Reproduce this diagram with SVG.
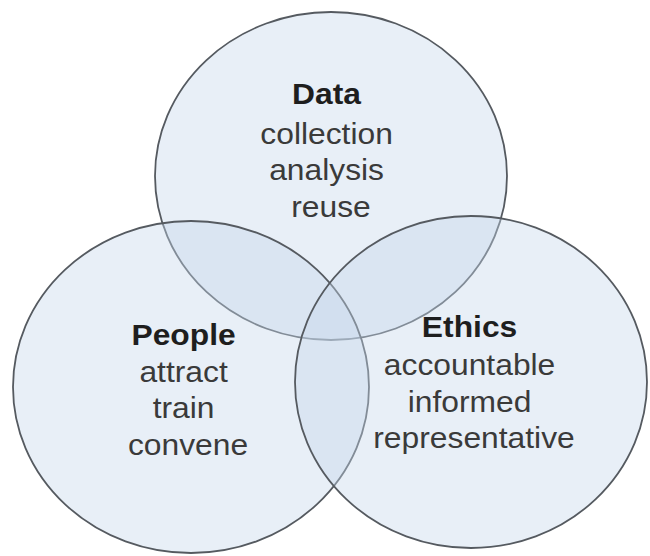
<svg xmlns="http://www.w3.org/2000/svg" width="650" height="556" viewBox="0 0 650 556">
  <style>
    .c { fill: #c5d7ec; fill-opacity: 0.4; stroke: #555a60; stroke-width: 1.8; }
    .t { font-family: "Liberation Sans", Arial, sans-serif; font-size: 30px; fill: #3a3a3a; text-anchor: middle; }
    .h { font-weight: bold; fill: #1e1e1e; }
  </style>
  <rect width="650" height="556" fill="#ffffff"/>
  <g id="data">
    <ellipse class="c" cx="331" cy="176" rx="176" ry="164"/>
    <text class="t" transform="translate(331,0) scale(1.06,1)">
      <tspan class="h" x="0" y="104">Data</tspan>
      <tspan x="0" y="144">collection</tspan>
      <tspan x="0" y="180">analysis</tspan>
      <tspan x="0" y="217">reuse</tspan>
    </text>
  </g>
  <g id="people">
    <ellipse class="c" cx="191" cy="387" rx="178" ry="166"/>
    <text class="t" transform="translate(188,0) scale(1.06,1)">
      <tspan class="h" x="0" y="345">People</tspan>
      <tspan x="0" y="382">attract</tspan>
      <tspan x="0" y="418">train</tspan>
      <tspan x="0" y="455">convene</tspan>
    </text>
  </g>
  <g id="ethics">
    <ellipse class="c" cx="471" cy="382" rx="176" ry="166"/>
    <text class="t" transform="translate(474,0) scale(1.06,1)">
      <tspan class="h" x="0" y="337">Ethics</tspan>
      <tspan x="0" y="375">accountable</tspan>
      <tspan x="0" y="412">informed</tspan>
      <tspan x="0" y="448">representative</tspan>
    </text>
  </g>
</svg>
